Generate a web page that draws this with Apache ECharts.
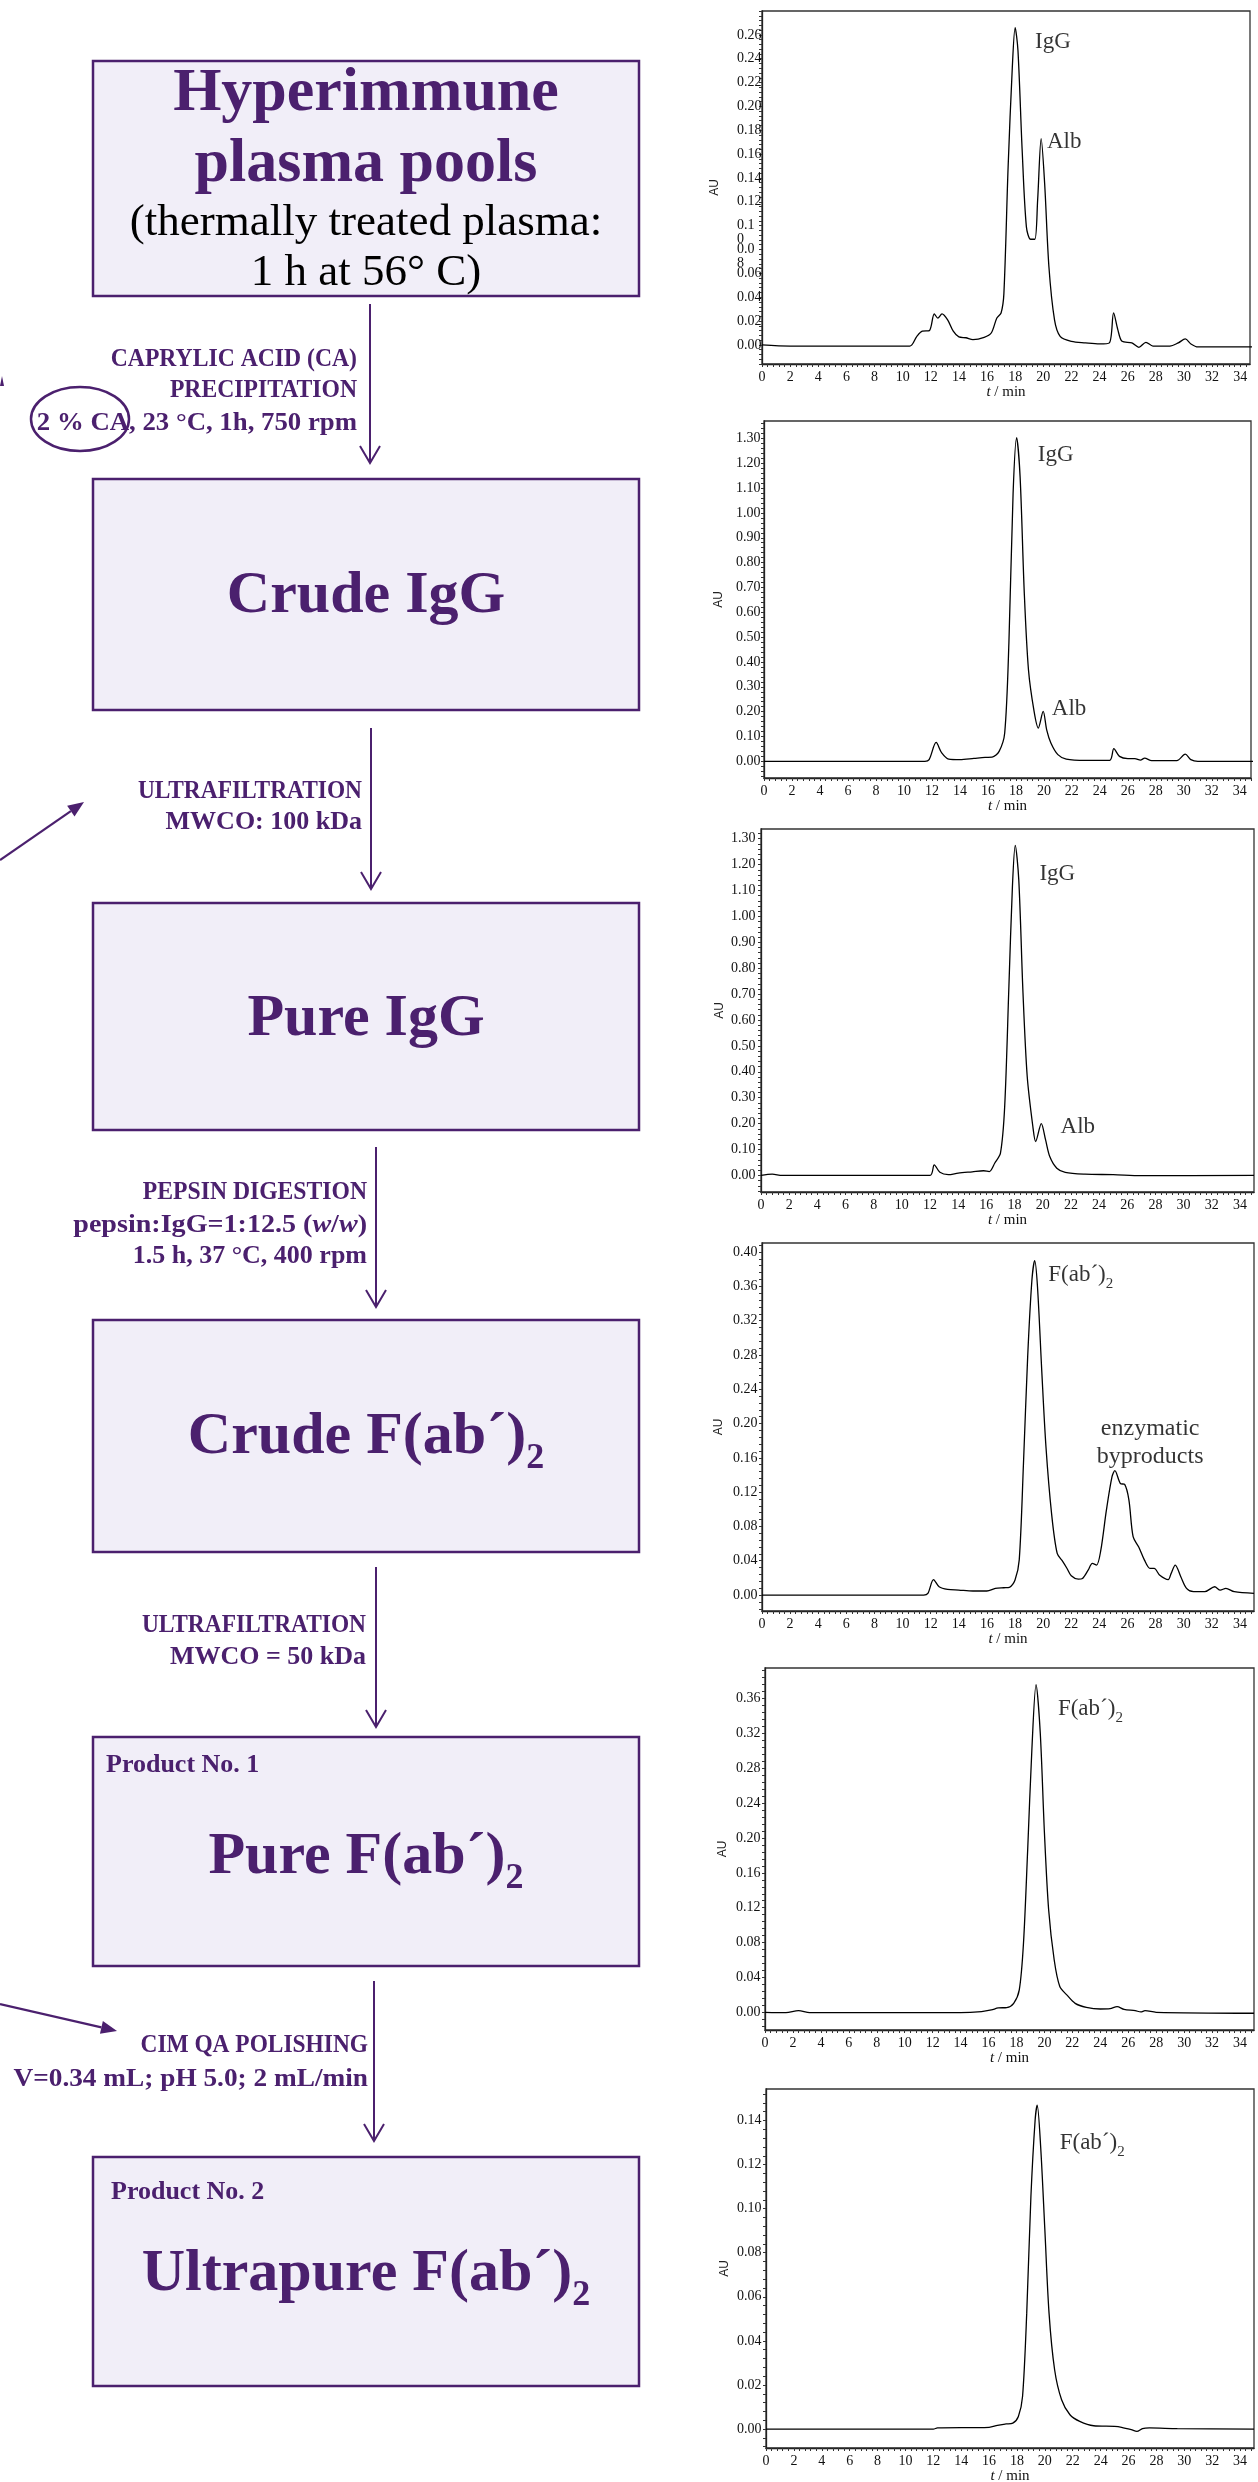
<!DOCTYPE html>
<html><head><meta charset="utf-8">
<script src="https://cdn.jsdelivr.net/npm/echarts@6/dist/echarts.min.js"></script>
<style>html,body{margin:0;padding:0;background:#fff}#c{width:1258px;height:2482px}</style>
</head><body><div id="c"></div>
<script>
// ---------- data ----------
const xTicks = [0,2,4,6,8,10,12,14,16,18,20,22,24,26,28,30,32,34];

const c1T  = [0,2,10.5,11,11.4,11.9,12.25,12.5,12.8,13.2,13.6,14,14.5,15,15.8,16.3,16.7,17.0,17.2,17.5,17.8,18.0,18.2,18.5,18.8,19.1,19.4,19.6,19.85,20.1,20.4,20.8,21.2,22,23,24,24.7,25.0,25.3,25.6,26.3,26.8,27.3,27.8,29,29.6,30.1,30.5,31,35];
const c1AU = [0,-0.001,-0.001,0.007,0.0115,0.012,0.026,0.0225,0.026,0.021,0.0115,0.0067,0.006,0.0045,0.0064,0.010,0.0226,0.0268,0.043,0.149,0.233,0.266,0.247,0.163,0.099,0.0886,0.0886,0.1215,0.173,0.135,0.0658,0.021,0.0072,0.003,0.0017,0.0008,0.0017,0.0268,0.0128,0.003,0.0017,-0.002,0.0022,-0.001,-0.001,0.0017,0.005,0.0008,-0.0017,-0.0017];
const c1YTicks  = [0,0.02,0.04,0.06,0.08,0.10,0.12,0.14,0.16,0.18,0.20,0.22,0.24,0.26];
const c1YLabels = ['0.00','0.02','0.04','0.06',' \n0.0\n8',' \n0.1\n0','0.12','0.14','0.16','0.18','0.20','0.22','0.24','0.26'];
const c1Notes = [['IgG',19.45,0.247],['Alb',20.3,0.163]];

const c2T  = [0,11.5,11.8,12.3,12.7,13.2,14,15,15.8,16.3,16.8,17.2,17.5,17.8,18.05,18.3,18.6,18.9,19.3,19.6,19.95,20.2,20.5,21,21.6,23,24.7,25.0,25.4,26,26.5,26.9,27.2,27.7,29.5,30.1,30.5,31,35];
const c2AU = [0,0,0.007,0.076,0.034,0.009,0.007,0.012,0.016,0.017,0.040,0.114,0.476,1.079,1.303,1.146,0.677,0.368,0.201,0.134,0.201,0.127,0.074,0.027,0.009,0.004,0.004,0.051,0.020,0.011,0.011,0.005,0.013,0.003,0.003,0.029,0.007,0,0];
const c2YTicks = [0,0.1,0.2,0.3,0.4,0.5,0.6,0.7,0.8,0.9,1.0,1.1,1.2,1.3];
const c2Notes = [['IgG',19.6,1.20],['Alb',20.6,0.176]];

const c3T  = [0,0.8,1.5,12.0,12.3,12.7,13.3,14,15,15.8,16.2,16.6,17.0,17.3,17.6,17.85,18.05,18.3,18.6,18.9,19.3,19.5,19.9,20.2,20.5,21,21.6,23,25,27,35];
const c3AU = [0,0.005,0,0,0.041,0.012,0.003,0.009,0.014,0.018,0.015,0.048,0.086,0.266,0.730,1.116,1.274,1.142,0.704,0.382,0.189,0.131,0.200,0.138,0.073,0.028,0.012,0.005,0.003,-0.001,0];
const c3YTicks = [0,0.1,0.2,0.3,0.4,0.5,0.6,0.7,0.8,0.9,1.0,1.1,1.2,1.3];
const c3Notes = [['IgG',19.8,1.13],['Alb',21.3,0.156]];

const c4T  = [0,11.5,11.8,12.2,12.6,13.2,14,15,16,16.6,17.2,17.6,18,18.3,18.6,18.9,19.2,19.4,19.6,19.9,20.2,20.6,21.0,21.4,21.7,22.0,22.5,22.8,23.2,23.5,23.8,24.1,24.5,24.9,25.1,25.5,25.8,26.1,26.4,26.8,27.2,27.6,27.9,28.3,28.9,29.1,29.4,29.8,30.2,30.7,31.5,32.2,32.6,33,33.6,35];
const c4AU = [0,0,0.002,0.018,0.0097,0.0066,0.0058,0.0047,0.0047,0.0078,0.0085,0.0089,0.0175,0.041,0.153,0.278,0.367,0.390,0.359,0.262,0.173,0.095,0.0485,0.039,0.031,0.0225,0.0186,0.0194,0.029,0.037,0.035,0.052,0.099,0.138,0.145,0.130,0.129,0.111,0.068,0.056,0.041,0.031,0.031,0.023,0.018,0.025,0.035,0.021,0.0078,0.0039,0.0039,0.0097,0.0058,0.0078,0.0039,0.002];
const c4YTicks = [0,0.04,0.08,0.12,0.16,0.20,0.24,0.28,0.32,0.36,0.40];
const c4Notes = [['F(ab´)_2',20.4,0.3635],['enzymatic\nbyproducts',27.65,0.184,'c']];

const c5T  = [0,1.5,2.4,3.2,14,15.5,16.2,16.7,17.3,17.8,18.2,18.5,18.8,19.1,19.4,19.7,20,20.3,20.7,21.1,21.6,22.2,23,24,24.7,25.2,25.7,26.5,26.9,27.2,28,35];
const c5AU = [0,-0.0004,0.002,-0.0004,-0.0004,0.0008,0.0027,0.005,0.0054,0.0103,0.0257,0.079,0.186,0.301,0.376,0.321,0.206,0.118,0.060,0.0295,0.020,0.0103,0.0057,0.0038,0.0042,0.0065,0.0034,0.0019,0.0004,0.0019,0,-0.0011];
const c5YTicks = [0,0.04,0.08,0.12,0.16,0.20,0.24,0.28,0.32,0.36];
const c5Notes = [['F(ab´)_2',21.0,0.338]];

const c6T  = [0,12,12.3,16,16.6,17.2,17.7,18.1,18.4,18.7,19.0,19.3,19.45,19.7,20.0,20.3,20.7,21.2,21.8,22.5,23.5,25,25.5,26.2,26.6,27.0,27.5,29.5,35];
const c6AU = [0,0,0.0005,0.0008,0.0017,0.0023,0.0027,0.0057,0.0148,0.0526,0.1055,0.140,0.147,0.128,0.0904,0.0526,0.0269,0.0133,0.0065,0.0035,0.0015,0.0012,0.0008,-0.0003,-0.0011,0.0002,0.0005,0.0002,0];
const c6YTicks = [0,0.02,0.04,0.06,0.08,0.10,0.12,0.14];
const c6Notes = [['F(ab´)_2',21.1,0.126]];

// ---------- layout / style ----------
const SERIF = '"Liberation Serif", "DejaVu Serif", serif';
const P = '#4b206e';
const FILL = '#f1eef8';

const defs = [
  {T:c1T, V:c1AU, yt:c1YTicks, yl:c1YLabels, yMin:-0.016, yMax:0.28,  xMax:34.7, box:[762,11,1250,364],   lm:25, ng:41, notes:c1Notes, dec:2},
  {T:c2T, V:c2AU, yt:c2YTicks, yMin:-0.067, yMax:1.37,  xMax:34.8, box:[764,421,1251,778],  lm:28, ng:39, notes:c2Notes, dec:2},
  {T:c3T, V:c3AU, yt:c3YTicks, yMin:-0.064, yMax:1.3375,xMax:35,   box:[761,829,1254,1192], lm:30, ng:35, notes:c3Notes, dec:2},
  {T:c4T, V:c4AU, yt:c4YTicks, yMin:-0.0186,yMax:0.4105,xMax:35,   box:[762,1243,1254,1611],lm:29, ng:37, notes:c4Notes, dec:2},
  {T:c5T, V:c5AU, yt:c5YTicks, yMin:-0.0203,yMax:0.395, xMax:35,   box:[765,1668,1254,2030],lm:29, ng:36, notes:c5Notes, dec:2},
  {T:c6T, V:c6AU, yt:c6YTicks, yMin:-0.0086,yMax:0.1543,xMax:35,   box:[766,2089,1254,2448],lm:29, ng:35, notes:c6Notes, dec:2}
];

function fine(step, lo, hi){
  const out=[]; const n0=Math.ceil(lo/step-1e-9), n1=Math.floor(hi/step+1e-9);
  for(let k=n0;k<=n1;k++) out.push(+(k*step).toFixed(6));
  return out;
}
function noteText(s){
  if (s.indexOf('_')>=0){ const p=s.split('_'); return '{m|'+p[0]+'}{s|'+p[1]+'}'; }
  return '{t|'+s+'}';
}

const grids=[], xAxes=[], yAxes=[], series=[];
defs.forEach((d,i)=>{
  const [x1,y1,x2,y2]=d.box;
  grids.push({left:x1, top:y1, width:x2-x1, height:y2-y1, show:true, borderColor:'#333', borderWidth:1.3, backgroundColor:'transparent', containLabel:false, outerBoundsMode:'none'});
  xAxes.push({type:'value', gridIndex:i, min:0, max:d.xMax, position:'bottom',
    axisLine:{show:true, onZero:false, lineStyle:{color:'#222', width:1.3}},
    axisTick:{show:true, customValues:fine(0.4,0,d.xMax), length:3, lineStyle:{color:'#333', width:1}},
    splitLine:{show:false},
    axisLabel:{customValues:xTicks, margin:6, fontFamily:SERIF, fontSize:14, color:'#111', formatter:v=>String(v)},
    name:'{i|t} / min', nameLocation:'middle', nameGap:19,
    nameTextStyle:{fontFamily:SERIF, fontSize:15, color:'#111', rich:{i:{fontStyle:'italic', fontFamily:SERIF, fontSize:15, color:'#111'}}}
  });
  const step=(d.yt[1]-d.yt[0]);
  yAxes.push({type:'value', gridIndex:i, min:d.yMin, max:d.yMax, position:'left',
    axisLine:{show:true, onZero:false, lineStyle:{color:'#222', width:1.3}},
    axisTick:{show:true, customValues:fine(step/5,d.yMin,d.yMax), length:3, lineStyle:{color:'#333', width:1}},
    splitLine:{show:false},
    axisLabel:{customValues:d.yt, align:'left', margin:d.lm, fontFamily:SERIF, fontSize:14, color:'#111',
      formatter:(v)=>{ if(d.yl){ const k=d.yt.findIndex(t=>Math.abs(t-v)<1e-6); if(k>=0) return d.yl[k]; } return (+v).toFixed(d.dec); }},
    name:'AU', nameLocation:'middle', nameGap:d.ng, nameRotate:90,
    nameTextStyle:{fontFamily:'"Liberation Sans", "DejaVu Sans", sans-serif', fontSize:12, color:'#222'}
  });
  series.push({type:'line', xAxisIndex:i, yAxisIndex:i, showSymbol:false, smooth:0.3, silent:true,
    lineStyle:{color:'#000', width:1.3}, data:d.T.map((t,k)=>[t,d.V[k]]), z:3});
  series.push({type:'scatter', xAxisIndex:i, yAxisIndex:i, symbolSize:1, silent:true,
    itemStyle:{color:'transparent'}, z:4,
    data:d.notes.map(n=>({value:[n[1],n[2]], label:{show:true, position:[0,0],
      align:n[3]==='c'?'center':'left', verticalAlign:'middle', offset:n[3]==='c'?[0,6]:[0,-8],
      formatter:noteText(n[0]), lineHeight:28, color:'#000',
      rich:{
        t:{fontFamily:SERIF, fontSize:n[3]==='c'?24:23, color:'#000', lineHeight:28, align:n[3]==='c'?'center':'left'},
        m:{fontFamily:SERIF, fontSize:23, color:'#000', lineHeight:33, verticalAlign:'middle'},
        s:{fontFamily:SERIF, fontSize:15, color:'#000', lineHeight:15, verticalAlign:'bottom'}
      }}}))
  });
});

// ---------- flow diagram (left) ----------
const g=[];
const boxes=[[93,61,639,296],[93,479,639,710],[93,903,639,1130],[93,1320,639,1552],[93,1737,639,1966],[93,2157,639,2386]];
boxes.forEach(b=>g.push({type:'rect', z:1, silent:true, shape:{x:b[0], y:b[1], width:b[2]-b[0], height:b[3]-b[1]}, style:{fill:FILL, stroke:P, lineWidth:2.5}}));

function txt(text,x,y,size,o){
  o=o||{};
  const a=o.align||'center';
  return {type:'text', z:5, silent:true, x:x, y:y, scaleX:o.sx||1, style:{text:text, fill:o.color||P, fontSize:size, fontWeight:o.bold===false?'normal':'bold',
    fontFamily:SERIF, align:a, textAlign:a, verticalAlign:'middle', textVerticalAlign:'middle'}};
}
function subTitle(main,sub,x,y){
  return {type:'text', z:5, silent:true, x:x, y:y, style:{text:'{m|'+main+'}{s|'+sub+'}', align:'center', textAlign:'center', verticalAlign:'middle', textVerticalAlign:'middle',
    rich:{m:{fontSize:60, fontWeight:'bold', fontFamily:SERIF, fill:P, lineHeight:79, verticalAlign:'middle'},
          s:{fontSize:36, fontWeight:'bold', fontFamily:SERIF, fill:P, lineHeight:36, verticalAlign:'bottom'}}}};
}
g.push(txt('Hyperimmune',366,93.5,62));
g.push(txt('plasma pools',366,164.5,62));
g.push(txt('(thermally treated plasma:',366,223,45,{bold:false,color:'#000'}));
g.push(txt('1 h at 56° C)',366,273,45,{bold:false,color:'#000'}));
g.push(txt('Crude IgG',366,596,60));
g.push(txt('Pure IgG',366,1019,60));
g.push(subTitle('Crude F(ab´)','2',366,1437));
g.push(subTitle('Pure F(ab´)','2',366,1857));
g.push(subTitle('Ultrapure F(ab´)','2',366,2274));
g.push(txt('Product No. 1',106,1765,26,{align:'left'}));
g.push(txt('Product No. 2',111,2192,26,{align:'left'}));

const steps=[
  ['CAPRYLIC ACID (CA)',357,359,0.91],['PRECIPITATION',357,390,0.91],['2 % CA, 23 °C, 1h, 750 rpm',357,423,1.03],
  ['ULTRAFILTRATION',362,791,0.9],['MWCO: 100 kDa',362,822,1],
  ['PEPSIN DIGESTION',367,1192,0.91],['1.5 h, 37 °C, 400 rpm',367,1256,1],
  ['ULTRAFILTRATION',366,1625,0.9],['MWCO = 50 kDa',366,1657,1],
  ['CIM QA POLISHING',368,2045,0.9],['V=0.34 mL; pH 5.0; 2 mL/min',368,2079,1.05]
];
steps.forEach(s=>g.push(txt(s[0],s[1],s[2],26,{align:'right', sx:s[3]})));
g.push({type:'text', z:5, silent:true, x:367, y:1225, scaleX:1.08, style:{text:'{b|pepsin:IgG=1:12.5 (}{i|w}{b|/}{i|w}{b|)}', align:'right', textAlign:'right', verticalAlign:'middle', textVerticalAlign:'middle',
  rich:{b:{fontSize:26, fontWeight:'bold', fontFamily:SERIF, fill:P}, i:{fontSize:26, fontWeight:'bold', fontStyle:'italic', fontFamily:SERIF, fill:P}}}});

// vertical arrows with open heads
[[370,304,463],[371,728,889],[376,1147,1307],[376,1567,1727],[374,1981,2141]].forEach(a=>{
  g.push({type:'line', z:2, silent:true, shape:{x1:a[0], y1:a[1], x2:a[0], y2:a[2]}, style:{stroke:P, lineWidth:2}});
  g.push({type:'polyline', z:2, silent:true, shape:{points:[[a[0]-10,a[2]-17],[a[0],a[2]],[a[0]+10,a[2]-17]]}, style:{stroke:P, lineWidth:2, fill:'none'}});
});
// diagonal arrows with filled heads
[[[0,860],[84,802]],[[0,2004],[117,2031]]].forEach(a=>{
  const [p0,p1]=a; const dx=p1[0]-p0[0], dy=p1[1]-p0[1], L=Math.hypot(dx,dy), ux=dx/L, uy=dy/L;
  const bx=p1[0]-ux*16, by=p1[1]-uy*16;
  g.push({type:'line', z:2, silent:true, shape:{x1:p0[0], y1:p0[1], x2:bx, y2:by}, style:{stroke:P, lineWidth:2.2}});
  g.push({type:'polygon', z:2, silent:true, shape:{points:[[p1[0],p1[1]],[bx-uy*6.5,by+ux*6.5],[bx+uy*6.5,by-ux*6.5]]}, style:{fill:P}});
});
g.push({type:'polygon', z:2, silent:true, shape:{points:[[0,386],[2,376],[4,386]]}, style:{fill:P}});
// circle around "2 % CA,"
g.push({type:'ellipse', z:6, silent:true, shape:{cx:80, cy:419, rx:49, ry:32}, style:{fill:'none', stroke:P, lineWidth:2.5}});

const chart=echarts.init(document.getElementById('c'), null, {renderer:'canvas', width:1258, height:2482});
chart.setOption({
  animation:false,
  backgroundColor:'#fff',
  grid:grids, xAxis:xAxes, yAxis:yAxes, series:series,
  graphic:g
});
</script></body></html>
